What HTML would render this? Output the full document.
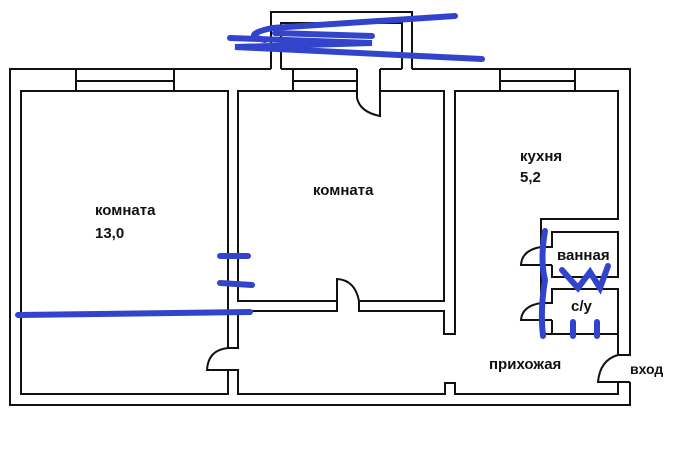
<!DOCTYPE html>
<html><head><meta charset="utf-8"><style>
html,body{margin:0;padding:0;background:#fff;}
svg{display:block;}
text{font-family:"Liberation Sans",Arial,sans-serif;font-size:15px;font-weight:bold;fill:#111;}
</style></head><body>
<svg width="680" height="452" viewBox="0 0 680 452" xmlns="http://www.w3.org/2000/svg">
<rect width="680" height="452" fill="#fff"/>
<g stroke="#111" stroke-width="2" fill="#fff">
<path d="M271,69 L271,12 L412,12 L412,69" fill="none"/>
<path d="M281,69 L281,23 L402,23 L402,69" fill="none"/>
<path d="M271,69 L10,69 L10,405 L630,405 L630,69 L412,69" fill="#fff"/>
<rect x="21" y="91" width="207" height="303"/>
<rect x="238" y="91" width="206" height="210"/>
<path d="M455,91 L618,91 L618,219 L541,219 L541,334 L618,334 L618,394 L238,394 L238,311 L444,311 L444,334 L455,334 Z"/>
<rect x="552" y="232" width="66" height="45"/>
<rect x="552" y="289" width="66" height="45"/>
</g>
<g fill="#fff" stroke="none">
<rect x="358" y="70" width="21" height="23"/>
<rect x="227" y="349" width="12" height="20"/>
<rect x="338" y="300" width="20" height="12"/>
<rect x="540" y="248" width="13" height="17"/>
<rect x="540" y="304" width="13" height="16"/>
<rect x="617" y="356" width="14" height="26"/>
</g>
<g stroke="#111" stroke-width="2" fill="none">
<path d="M281,69 L357,69 M380,69 L402,69"/>
<path d="M76,69 L76,91 M174,69 L174,91 M76,81 L174,81"/>
<path d="M293,69 L293,91 M357,69 L357,91 M293,81 L357,81"/>
<path d="M500,69 L500,91 M575,69 L575,91 M500,81 L575,81"/>
<path d="M357,69 L357,98 Q360,112 380,116 L380,69"/>
<path d="M337,301 L337,311 M359,301 L359,311 M337,301 L337,279 Q355,280 359,301"/>
<path d="M228,348 L238,348 M228,370 L238,370 M228,348 Q208,350 207,370 L228,370"/>
<path d="M541,247 L552,247 M541,265 L552,265 M541,247 Q522,250 521,265 L541,265"/>
<path d="M541,303 L552,303 M541,320 L552,320 M541,303 Q522,306 521,320 L541,320"/>
<path d="M618,355 L630,355 M618,382 L630,382 M618,355 Q600,360 598,382 L618,382"/>
</g>
<path d="M445,395 L445,383 L455,383 L455,395" fill="#fff" stroke="#111" stroke-width="2"/>
<text x="95" y="215">комната</text>
<text x="95" y="238">13,0</text>
<text x="313" y="195">комната</text>
<text x="520" y="161">кухня</text>
<text x="520" y="182">5,2</text>
<text x="557" y="260">ванная</text>
<text x="571" y="311">с/у</text>
<text x="489" y="369">прихожая</text>
<text x="630" y="374" style="font-size:14px">вход</text>
<g stroke="#3344cc" stroke-width="6" fill="none" stroke-linecap="round">
<path d="M272,28 L455,16 M275,33 L372,36 M230,38 L372,43 L235,47 L482,59"/>
<path d="M272,28 Q240,35 265,40"/>
<path d="M18,315 L250,312"/>
<path d="M220,256 L248,256 M220,283 L252,285"/>
<path d="M545,231 Q540,260 545,280 Q540,310 543,336"/>
<path d="M573,322 L573,336 M597,322 L597,336"/>
<path d="M562,270 L578,288 L590,272 L600,288 L608,266"/>
</g>
</svg>
</body></html>
